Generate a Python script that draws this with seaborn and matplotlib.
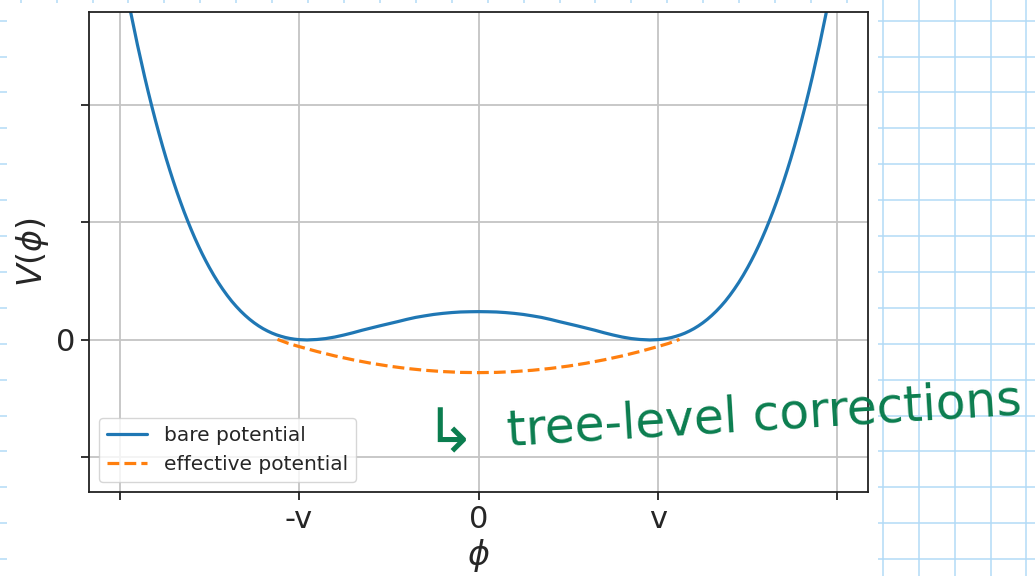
import numpy as np
import pandas as pd
import seaborn as sns
import matplotlib.pyplot as plt
from matplotlib.patches import Rectangle

# values (phi in units of v); the bare curve is symmetric,
# so the left half is read and mirrored
half_phi = [-1.98, -1.96, -1.94, -1.92, -1.90, -1.88, -1.86, -1.84, -1.82, -1.80,
            -1.78, -1.76, -1.74, -1.72, -1.70, -1.68, -1.66, -1.64, -1.62, -1.60,
            -1.58, -1.56, -1.54, -1.52, -1.50, -1.475, -1.45, -1.425, -1.40, -1.375,
            -1.35, -1.325, -1.30, -1.275, -1.25, -1.225, -1.20, -1.175, -1.15, -1.125,
            -1.10, -1.075, -1.05, -1.025, -1.00, -0.955, -0.90, -0.85, -0.80, -0.75,
            -0.70, -0.65, -0.60, -0.55, -0.50, -0.45, -0.40, -0.35, -0.30, -0.25,
            -0.20, -0.15, -0.10, -0.05]
half_v = [3.12, 2.96, 2.805, 2.656, 2.511, 2.373, 2.239, 2.111, 1.988, 1.870,
          1.757, 1.648, 1.544, 1.445, 1.350, 1.259, 1.173, 1.090, 1.012, 0.937,
          0.866, 0.799, 0.735, 0.675, 0.618, 0.551, 0.489, 0.432, 0.379, 0.330,
          0.286, 0.2455, 0.209, 0.1757, 0.146, 0.1195, 0.096, 0.0758, 0.058, 0.0431,
          0.031, 0.0205, 0.0125, 0.0066, 0.0027, 0.0, 0.004, 0.012, 0.025, 0.042,
          0.061, 0.082, 0.101, 0.12, 0.138, 0.156, 0.175, 0.192, 0.205, 0.217,
          0.226, 0.233, 0.238, 0.240]
center_v = 0.241

bare_phi = half_phi + [0.0] + [-p for p in half_phi[::-1]]
bare_v = half_v + [center_v] + half_v[::-1]

eff_phi = [-1.12, -1.06, -1.0, -0.9, -0.8, -0.7, -0.6, -0.5, -0.4, -0.3, -0.2, -0.1, 0.0,
           0.1, 0.2, 0.3, 0.4, 0.5, 0.6, 0.7, 0.8, 0.9, 1.0, 1.06, 1.12]
eff_v = [0.005, -0.029, -0.056, -0.098, -0.136, -0.169, -0.198, -0.2225, -0.2425,
         -0.258, -0.269, -0.276, -0.278, -0.276, -0.269, -0.258, -0.2425, -0.2225,
         -0.198, -0.169, -0.136, -0.098, -0.056, -0.029, 0.005]

x_ticks = [-2, -1, 0, 1, 2]
x_labels = ['', '-v', '0', 'v', '']
y_ticks = [-1, 0, 1, 2]
y_labels = ['', '0', '', '']

bare = pd.DataFrame({'phi': bare_phi, 'V': bare_v})
eff = pd.DataFrame({'phi': eff_phi, 'V': eff_v})

sns.set_style("ticks")
plt.rcParams['font.family'] = ['DejaVu Sans']

W, H = 1035, 576
fig = plt.figure(figsize=(W / 100, H / 100), dpi=100)

# graph paper background of the notes page
bg = fig.add_axes([0, 0, 1, 1], zorder=-5)
bg.set_xlim(0, W)
bg.set_ylim(H, 0)
bg.set_axis_off()
grid_col = '#b3dbf7'
for gx in np.arange(20.7, W, 35.92):
    bg.axvline(gx, color=grid_col, lw=1.1)
for gy in np.arange(20.7, H, 35.9):
    bg.axhline(gy, color=grid_col, lw=1.1)
bg.add_patch(Rectangle((7, 3), 871, H, facecolor='white', edgecolor='none', zorder=3))

# the pasted plot
ax = fig.add_axes([89 / W, 1 - 492 / H, 779 / W, 480 / H], zorder=1)
ax.set_facecolor('white')
sns.lineplot(data=bare, x='phi', y='V', ax=ax, color='#1f77b4', lw=2.3,
             label='bare potential', sort=False)
sns.lineplot(data=eff, x='phi', y='V', ax=ax, color='#ff7f0e', lw=2.3,
             linestyle='--', label='effective potential', sort=False)

ax.set_xlim(-2.17, 2.17)
ax.set_ylim(-1.294, 2.791)
ax.set_xticks(x_ticks)
ax.set_xticklabels(x_labels)
ax.set_yticks(y_ticks)
ax.set_yticklabels(y_labels)
ax.tick_params(labelsize=22, length=6, width=1.3, color='#222222')
ax.grid(True, color='#c4c4c4', lw=1.3)
for s in ax.spines.values():
    s.set_color('#222222')
    s.set_linewidth(1.3)
ax.set_xlabel(r'$\phi$', fontsize=24, labelpad=2)
ax.set_ylabel(r'$V(\phi)$', fontsize=24, labelpad=4)
ax.legend(loc='lower left', fontsize=14.5, framealpha=0.8, edgecolor='#cccccc')

# handwritten note
green = '#0b7d4f'
fig.text(424 / W, 1 - 452 / H, '\u21b3', color=green, fontsize=44, ha='left',
         va='baseline', zorder=10)
fig.text(508 / W, 1 - 446 / H, 'tree-level corrections', color=green, fontsize=35,
         ha='left', va='baseline', rotation=3.5, rotation_mode='anchor', zorder=10)

fig.savefig('out.png', dpi=100)
